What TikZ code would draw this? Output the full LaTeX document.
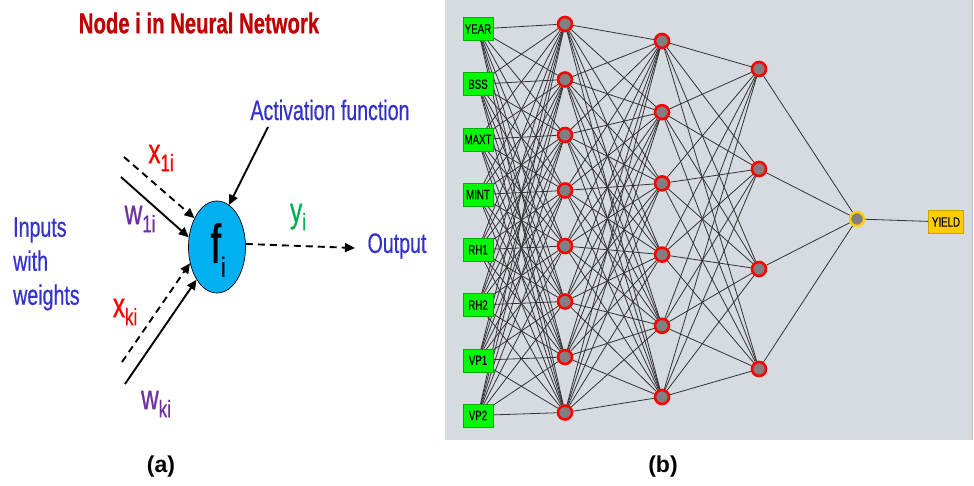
\documentclass[tikz,border=0pt]{standalone}
\usepackage{fontspec}
\setmainfont{Liberation Sans}
\newfontfamily\narrowsans[FakeStretch=0.7,FakeBold=0.6]{Liberation Sans}
\newfontfamily\boxsans[FakeStretch=0.72,FakeBold=0.4]{Liberation Sans}
\usetikzlibrary{shapes.geometric,arrows.meta}

\definecolor{titulorojo}{RGB}{192,0,0}
\definecolor{azultexto}{RGB}{51,51,204}
\definecolor{morado}{RGB}{112,48,160}
\definecolor{verdey}{RGB}{0,176,80}
\definecolor{celeste}{RGB}{0,176,240}
\definecolor{fondogris}{RGB}{214,218,225}
\definecolor{verdecaja}{RGB}{0,250,0}
\definecolor{amarillo}{RGB}{255,204,0}
\definecolor{grisnodo}{RGB}{128,128,128}

\pgfdeclarelayer{fondo}
\pgfdeclarelayer{aristas}
\pgfsetlayers{fondo,aristas,main}

\begin{document}
\begin{tikzpicture}[x=1pt,y=-1pt,
  textoazul/.style={font=\narrowsans\fontsize{28}{34}\selectfont, text=azultexto, inner sep=0pt},
  flecha/.style={line width=1.9pt, -{Triangle[length=10pt,width=9pt]}},
  guion/.style={dash pattern=on 7pt off 5pt},
  entrada/.style={rectangle, fill=verdecaja, draw=verdecaja!70!black, line width=0.4pt,
    minimum width=30pt, minimum height=23pt, inner sep=0pt,
    font=\boxsans\fontsize{13.5}{14}\selectfont},
  oculta/.style={circle, fill=grisnodo, draw=red, line width=2.6pt, minimum size=14pt, inner sep=0pt},
  salida/.style={circle, fill=grisnodo, draw=amarillo, line width=2.4pt, minimum size=14pt, inner sep=0pt},
  cajasal/.style={rectangle, fill=amarillo, draw=amarillo!80!black, line width=0.4pt,
    minimum width=35pt, minimum height=23pt, inner sep=0pt,
    font=\boxsans\fontsize{13.5}{14}\selectfont},
  arista/.style={draw=black!80, line width=0.8pt}
  ]

  \useasboundingbox (0,0) rectangle (974,486);

  % Panel (a): nodo i
  \node[font=\narrowsans\bfseries\fontsize{29}{30}\selectfont, text=titulorojo, inner sep=0pt]
    (titulo) at (199,23) {Node i in Neural Network};

  \node[ellipse, fill=celeste, draw=black, line width=0.7pt, minimum width=57pt, minimum height=92pt,
    inner sep=0pt] (fi) at (217,247) {};
  \node[inner sep=0pt] (fitexto) at (218,250)
    {\narrowsans\fontsize{55}{55}\selectfont f\raisebox{-14pt}{\fontsize{28}{28}\selectfont i}};

  \node[textoazul] (activ) at (330,110) {Activation function};
  \node[textoazul, align=left, anchor=west] (inputs) at (13,264) {Inputs\\with\\weights};
  \node[textoazul] (output) at (397,246) {Output};

  % Etiquetas de las entradas
  \node[text=red, inner sep=0pt] (x1i) at (161,158)
    {\narrowsans\fontsize{35}{35}\selectfont x\raisebox{-8pt}{\fontsize{24}{24}\selectfont 1i}};
  \node[text=morado, inner sep=0pt] (w1i) at (140,219)
    {\narrowsans\fontsize{35}{35}\selectfont w\raisebox{-8pt}{\fontsize{24}{24}\selectfont 1i}};
  \node[text=red, inner sep=0pt] (xki) at (125,312)
    {\narrowsans\fontsize{35}{35}\selectfont x\raisebox{-8pt}{\fontsize{24}{24}\selectfont ki}};
  \node[text=morado, inner sep=0pt] (wki) at (156,404)
    {\narrowsans\fontsize{35}{35}\selectfont w\raisebox{-8pt}{\fontsize{24}{24}\selectfont ki}};
  \node[text=verdey, inner sep=0pt] (yi) at (298,217)
    {\narrowsans\fontsize{35}{35}\selectfont y\raisebox{-8pt}{\fontsize{24}{24}\selectfont i}};

  % Flechas hacia y desde el nodo
  \coordinate (x1ini) at (124,157);
  \coordinate (w1ini) at (121,177);
  \coordinate (xkini) at (122,362);
  \coordinate (wkini) at (125,384);
  \coordinate (actini) at (268,127);
  \coordinate (outfin) at (355,248);
  \draw[flecha, guion] (x1ini) -- (fi.128);
  \draw[flecha] (w1ini) -- (fi.161);
  \draw[flecha, guion] (xkini) -- (fi.211);
  \draw[flecha] (wkini) -- (fi.238);
  \draw[flecha] (actini) -- (fi.74);
  \draw[flecha, guion] (fi.6) -- (outfin);

  \node[font=\bfseries\fontsize{23}{24}\selectfont, inner sep=0pt] (letraa) at (161,467) {(a)};

  % Panel (b): red neuronal
  \begin{pgfonlayer}{fondo}
    \fill[fondogris] (445,0) rectangle (972,440);
    \draw[black!25, line width=0.8pt] (972,0) -- (972,440);
  \end{pgfonlayer}

  % capa de entrada
  \foreach \nm [count=\k] in {YEAR,BSS,MAXT,MINT,RH1,RH2,VP1,VP2}
    \node[entrada] (e\k) at (478,{29+55.2*(\k-1)}) {\nm};
  % capas ocultas
  \foreach \k in {1,...,8}
    \node[oculta] (h\k) at (565,{24+55.5*(\k-1)}) {};
  \foreach \k in {1,...,6}
    \node[oculta] (g\k) at (662,{41+71.2*(\k-1)}) {};
  \foreach \k in {1,...,4}
    \node[oculta] (m\k) at (759,{69+100*(\k-1)}) {};
  % salida
  \node[salida] (sal) at (857,219) {};
  \node[cajasal] (yield) at (946,222) {YIELD};

  % conexiones
  \begin{pgfonlayer}{aristas}
    \foreach \i in {1,...,8}
      \foreach \j in {1,...,8}
        \draw[arista] (e\i.center) -- (h\j);
    \foreach \i in {1,...,8}
      \foreach \j in {1,...,6}
        \draw[arista] (h\i) -- (g\j);
    \foreach \i in {1,...,6}
      \foreach \j in {1,...,4}
        \draw[arista] (g\i) -- (m\j);
    \foreach \i in {1,...,4}
      \draw[arista] (m\i) -- (sal);
    \draw[arista] (sal) -- (yield);
  \end{pgfonlayer}

  \node[font=\bfseries\fontsize{23}{24}\selectfont, inner sep=0pt] (letrab) at (663,467) {(b)};

\end{tikzpicture}
\end{document}
